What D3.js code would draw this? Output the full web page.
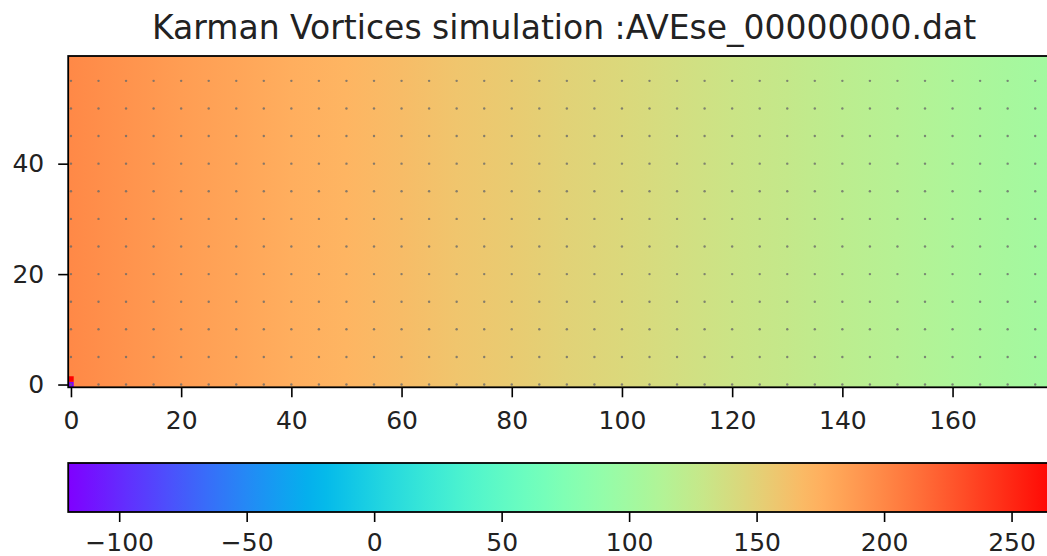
<!DOCTYPE html>
<html>
<head>
<meta charset="utf-8">
<script src="https://d3js.org/d3.v7.min.js"></script>
<style>
  body { margin: 0; background: #fff; }
  text { font-family: "DejaVu Sans", sans-serif; fill: #222; }
</style>
</head>
<body>
<script>

// field profile (value per column, field is constant along y)
var fieldCols   = [0, 10, 20, 30, 40, 50, 60, 70, 80, 90, 100, 110, 120, 130, 140, 150, 160, 170, 179];
var fieldValues = [199, 193, 187, 182, 176, 171, 166, 160, 155, 149, 144, 138, 132, 127, 121, 116, 110, 105, 100];

// the two odd cells at the inlet corner
var oddCells = [{col: 0, row: 0, value: -120}, {col: 0, row: 1, value: 269}];

// quiver grid (arrows are ~zero length, so only dots show)
var quiverX = [0, 5, 10, 15, 20, 25, 30, 35, 40, 45, 50, 55, 60, 65, 70, 75, 80, 85,
               90, 95, 100, 105, 110, 115, 120, 125, 130, 135, 140, 145, 150, 155, 160, 165, 170, 175];
var quiverY = [0, 5, 10, 15, 20, 25, 30, 35, 40, 45, 50, 55];

var xTicks  = [0, 20, 40, 60, 80, 100, 120, 140, 160];
var yTicks  = [0, 20, 40];
var cbTicks = [-100, -50, 0, 50, 100, 150, 200, 250];

var vmin = -120, vmax = 269;
var nCols = 180, nRows = 60;

var W = 1047, H = 556;
var plot = {left: 68.2, top: 56, right: 1060, bottom: 387.3};
var cbar = {top: 463, bottom: 512};

var svg = d3.select("body").append("svg")
    .attr("width", W)
    .attr("height", H);

// matplotlib "rainbow"
function rainbow(t) {
  t = Math.max(0, Math.min(1, t));
  var r = Math.min(1, Math.abs(2 * t - 0.5)),
      g = Math.sin(Math.PI * t),
      b = Math.cos(Math.PI * t / 2);
  return d3.rgb(r * 255, Math.max(0, g) * 255, Math.max(0, b) * 255).toString();
}

var color = d3.scaleSequential(rainbow).domain([vmin, vmax]);

var x = d3.scaleLinear().domain([-0.5, nCols - 0.5]).range([plot.left, plot.right]);
var y = d3.scaleLinear().domain([-0.5, nRows - 0.5]).range([plot.bottom, plot.top]);

var defs = svg.append("defs");

// field gradient
var fg = defs.append("linearGradient")
    .attr("id", "field")
    .attr("gradientUnits", "userSpaceOnUse")
    .attr("x1", x(-0.5)).attr("x2", x(nCols - 0.5))
    .attr("y1", 0).attr("y2", 0);

fg.selectAll("stop")
  .data(fieldCols.map(function(c, i) { return {c: c, v: fieldValues[i]}; }))
  .enter().append("stop")
  .attr("offset", function(d) { return (x(d.c) - x(-0.5)) / (x(nCols - 0.5) - x(-0.5)); })
  .attr("stop-color", function(d) { return color(d.v); });

svg.append("rect")
   .attr("x", x(-0.5))
   .attr("y", y(nRows - 0.5))
   .attr("width", x(nCols - 0.5) - x(-0.5))
   .attr("height", y(-0.5) - y(nRows - 0.5))
   .attr("fill", "url(#field)");

svg.selectAll("rect.odd")
   .data(oddCells).enter()
   .append("rect")
   .attr("class", "odd")
   .attr("x", function(d) { return x(d.col - 0.5); })
   .attr("y", function(d) { return y(d.row + 0.5); })
   .attr("width", x(0.5) - x(-0.5))
   .attr("height", y(-0.5) - y(0.5))
   .attr("fill", function(d) { return color(d.value); });

// quiver dots
var pts = [];
quiverX.forEach(function(qx) { quiverY.forEach(function(qy) { pts.push([qx, qy]); }); });

svg.selectAll("circle.q")
   .data(pts).enter()
   .append("circle")
   .attr("class", "q")
   .attr("cx", function(d) { return x(d[0]); })
   .attr("cy", function(d) { return y(d[1]); })
   .attr("r", 1.2)
   .attr("fill", "#6a6a6a")
   .attr("opacity", 0.8);

// axes
function styleAxis(g) {
  g.select(".domain").remove();
  g.selectAll(".tick line").attr("stroke", "#000").attr("stroke-width", 1.6);
  g.selectAll(".tick text").attr("font-size", 25).attr("fill", "#222")
   .attr("font-family", "DejaVu Sans, sans-serif");
}

svg.append("g")
   .attr("transform", "translate(0," + plot.bottom + ")")
   .call(d3.axisBottom(x).tickValues(xTicks).tickSize(10).tickPadding(14))
   .call(styleAxis);

svg.append("g")
   .attr("transform", "translate(" + plot.left + ",0)")
   .call(d3.axisLeft(y).tickValues(yTicks).tickSize(10).tickPadding(14))
   .call(styleAxis);

svg.append("rect")
   .attr("x", plot.left).attr("y", plot.top)
   .attr("width", plot.right - plot.left)
   .attr("height", plot.bottom - plot.top)
   .attr("fill", "none")
   .attr("stroke", "#000")
   .attr("stroke-width", 1.8);

// colorbar
var cx = d3.scaleLinear().domain([vmin, vmax]).range([plot.left, plot.right]);

var cg = defs.append("linearGradient")
    .attr("id", "cbar")
    .attr("gradientUnits", "userSpaceOnUse")
    .attr("x1", cx(vmin)).attr("x2", cx(vmax))
    .attr("y1", 0).attr("y2", 0);

cg.selectAll("stop")
  .data(d3.range(0, 1.0001, 0.02)).enter()
  .append("stop")
  .attr("offset", function(t) { return t; })
  .attr("stop-color", function(t) { return rainbow(t); });

svg.append("rect")
   .attr("x", cx(vmin)).attr("y", cbar.top)
   .attr("width", cx(vmax) - cx(vmin))
   .attr("height", cbar.bottom - cbar.top)
   .attr("fill", "url(#cbar)")
   .attr("stroke", "#000")
   .attr("stroke-width", 1.8);

svg.append("g")
   .attr("transform", "translate(0," + cbar.bottom + ")")
   .call(d3.axisBottom(cx).tickValues(cbTicks).tickSize(10).tickPadding(11))
   .call(styleAxis);

// title
svg.append("text")
   .attr("x", (plot.left + plot.right) / 2)
   .attr("y", 39)
   .attr("text-anchor", "middle")
   .attr("font-size", 33)
   .text("Karman Vortices simulation :AVEse_00000000.dat");

</script>
</body>
</html>
